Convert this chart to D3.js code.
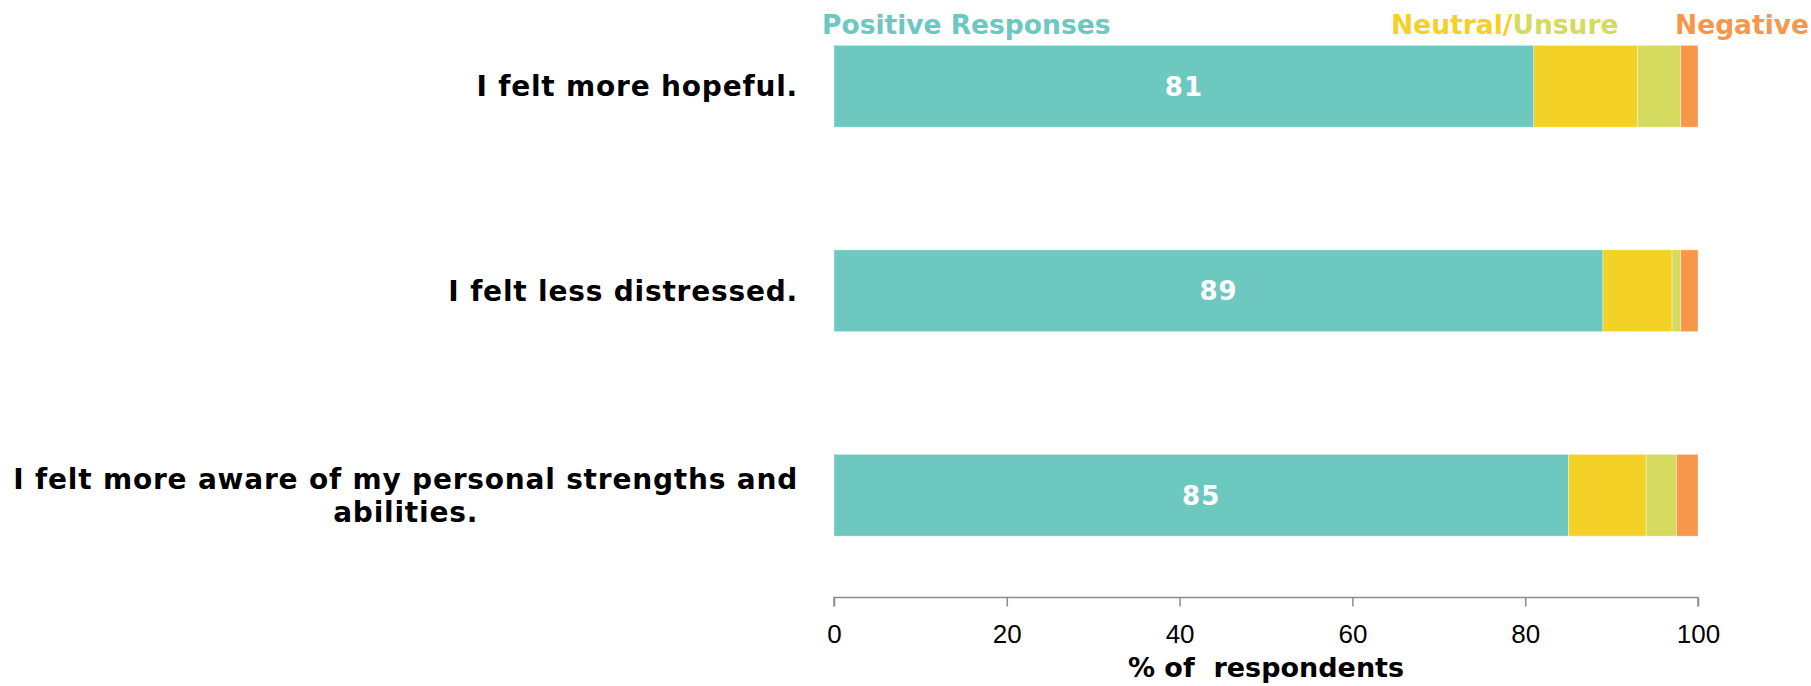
<!DOCTYPE html>
<html lang="en">
<head>
    <meta charset="UTF-8">
    <title>Respondent feelings</title>
    <style>
        body {
            margin: 0;
            padding: 0;
            background-color: white;
            font-family: "DejaVu Sans", Verdana, sans-serif;
        }

        .axis path,
        .axis line {
            stroke: #8c8c8c;
            stroke-width: 1.5px;
        }

        .axis text {
            font-size: 26px;
            fill: #000;
        }

        .seg {
            stroke: rgba(255, 255, 255, 0.45);
            stroke-width: 0.8px;
        }
    </style>
</head>
<body>
    <div id="chart"></div>

    <script src="https://d3js.org/d3.v7.min.js"></script>
    <script>
        // Statements (categories)
        const statements = [
            "I felt more hopeful.",
            "I felt less distressed.",
            "I felt more aware of my personal strengths and abilities."
        ];

        // Series values (% of respondents)
        const positive = [81, 89, 85];
        const neutral = [12, 8, 9];
        const unsure = [5, 1, 3.5];
        const negative = [2, 2, 2.5];

        const seriesNames = ["Positive Responses", "Neutral", "Unsure", "Negative"];
        const seriesColors = ["#6dc8bf", "#f4d126", "#d4db5e", "#f7974a"];

        const xTicks = [0, 20, 40, 60, 80, 100];
        const xTitle = "% of  respondents";

        const width = 1811;
        const height = 686;

        const svg = d3.select("#chart")
            .append("svg")
            .attr("width", width)
            .attr("height", height);

        // Scales
        const x = d3.scaleLinear()
            .domain([0, 100])
            .range([834, 1698]);

        const y = d3.scaleBand()
            .domain(statements)
            .range([-16, 597.5])
            .paddingInner(0.6)
            .paddingOuter(0.3);

        // Build stacked rows
        const rows = statements.map((s, i) => ({
            statement: s,
            Positive: positive[i],
            Neutral: neutral[i],
            Unsure: unsure[i],
            Negative: negative[i]
        }));

        const keys = ["Positive", "Neutral", "Unsure", "Negative"];
        const stack = d3.stack().keys(keys)(rows);

        // Bars
        svg.append("g")
            .selectAll("g")
            .data(stack)
            .enter()
            .append("g")
            .attr("fill", (d, i) => seriesColors[i])
            .selectAll("rect")
            .data(d => d)
            .enter()
            .append("rect")
            .attr("class", "seg")
            .attr("x", d => x(d[0]))
            .attr("y", d => y(d.data.statement))
            .attr("width", d => x(d[1]) - x(d[0]))
            .attr("height", y.bandwidth());

        // Value labels on positive segment
        svg.append("g")
            .selectAll("text")
            .data(rows)
            .enter()
            .append("text")
            .attr("x", d => x(d.Positive / 2))
            .attr("y", d => y(d.statement) + y.bandwidth() / 2)
            .attr("dy", "0.36em")
            .attr("text-anchor", "middle")
            .style("font-size", "26px")
            .style("font-weight", "bold")
            .style("letter-spacing", "1px")
            .style("fill", "white")
            .text(d => d.Positive);

        // Category labels: right aligned, wrapped lines centred in their block
        const labelRight = 798;
        const labelWidth = 810;
        const lineHeight = 33;

        const labelG = svg.append("g")
            .style("font-size", "28px")
            .style("font-weight", "bold")
            .style("letter-spacing", "0.8px")
            .style("fill", "#000");

        statements.forEach(s => {
            const words = s.split(" ");
            const lines = [];
            let line = [];
            const probe = labelG.append("text");
            words.forEach(w => {
                line.push(w);
                probe.text(line.join(" "));
                if (probe.node().getComputedTextLength() > labelWidth && line.length > 1) {
                    line.pop();
                    lines.push(line.join(" "));
                    line = [w];
                }
            });
            lines.push(line.join(" "));

            const widths = lines.map(l => {
                probe.text(l);
                return probe.node().getComputedTextLength();
            });
            probe.remove();

            const blockW = d3.max(widths);
            const cy = y(s) + y.bandwidth() / 2;
            const t = labelG.append("text")
                .attr("text-anchor", "middle");
            lines.forEach((l, i) => {
                t.append("tspan")
                    .attr("x", labelRight - blockW / 2)
                    .attr("y", cy + (i - (lines.length - 1) / 2) * lineHeight)
                    .attr("dy", "0.36em")
                    .text(l);
            });
        });

        // X axis
        const xAxis = svg.append("g")
            .attr("class", "axis")
            .attr("transform", `translate(0,${y.range()[1]})`)
            .call(d3.axisBottom(x).tickValues(xTicks).tickSize(9).tickPadding(18));

        xAxis.select(".domain").attr("d", `M${x(0)},9V0H${x(100)}V9`);

        svg.append("text")
            .attr("x", (x(0) + x(100)) / 2)
            .attr("y", 677)
            .attr("text-anchor", "middle")
            .style("font-size", "27px")
            .style("font-weight", "bold")
            .style("white-space", "pre")
            .attr("xml:space", "preserve")
            .text(xTitle);

        // Legend across the top
        const legend = svg.append("text")
            .attr("y", 34)
            .style("font-size", "26.5px")
            .style("font-weight", "bold");

        legend.append("tspan")
            .attr("x", 822)
            .attr("fill", seriesColors[0])
            .text(seriesNames[0]);

        legend.append("tspan")
            .attr("x", 1391)
            .attr("fill", seriesColors[1])
            .text(seriesNames[1] + "/");

        legend.append("tspan")
            .attr("fill", seriesColors[2])
            .text(seriesNames[2]);

        legend.append("tspan")
            .attr("x", 1675)
            .attr("fill", seriesColors[3])
            .text(seriesNames[3]);
    </script>
</body>
</html>
